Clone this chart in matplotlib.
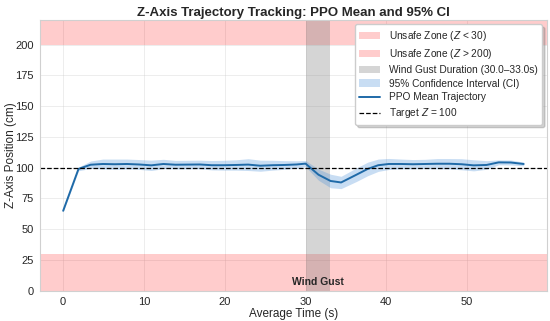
import numpy as np
import matplotlib
matplotlib.use("Agg")
import matplotlib.pyplot as plt
import seaborn as sns

sns.set_style("whitegrid")
plt.rcParams['font.family'] = ['Liberation Sans', 'DejaVu Sans']
plt.rcParams['mathtext.fontset'] = 'custom'
plt.rcParams['mathtext.rm'] = 'Liberation Sans'
plt.rcParams['mathtext.it'] = 'Liberation Sans:italic'

# mean trajectory and 95% CI half-width
times = [0.0, 1.9, 3.4, 4.9, 6.4, 7.9, 9.4, 10.9, 12.4, 13.9, 15.4, 16.9, 18.4,
         19.9, 21.4, 22.9, 24.4, 25.9, 27.4, 28.9, 30.0, 31.6, 33.1, 34.4, 36.3,
         37.7, 39.0, 40.3, 41.8, 43.3, 44.8, 46.3, 47.8, 49.3, 50.8, 52.4, 53.9,
         55.4, 57.0]
mean_z = [65.0, 99.0, 102.4, 103.0, 102.8, 103.0, 102.6, 101.9, 103.0, 102.4,
          102.5, 102.6, 102.0, 102.0, 102.2, 102.5, 101.6, 102.0, 102.2, 102.6,
          103.3, 94.3, 89.2, 88.0, 94.3, 99.0, 102.0, 103.0, 103.0, 102.8, 103.0,
          103.2, 103.2, 102.8, 101.9, 102.2, 104.3, 104.2, 103.0]
ci_half = [0.8, 1.5, 3.0, 4.0, 4.2, 4.0, 4.0, 4.2, 3.8, 3.5, 3.5, 3.5, 3.8, 4.0,
           4.2, 4.8, 4.5, 4.0, 3.5, 3.0, 2.5, 4.5, 5.5, 5.0, 5.5, 5.5, 5.0, 4.5,
           4.0, 3.8, 3.8, 4.2, 4.2, 4.5, 4.5, 3.5, 2.0, 2.0, 1.5]

z_low, z_high, z_target = 30, 200, 100
gust_start, gust_end = 30.0, 33.0

t = np.array(times)
m = np.array(mean_z)
h = np.array(ci_half)

fig, ax = plt.subplots(figsize=(5.5, 3.21), dpi=100)
fig.subplots_adjust(left=0.073, right=0.994, bottom=0.094, top=0.938)

ax.axhspan(0, z_low, color='red', alpha=0.2, lw=0, label=f'Unsafe Zone ($Z$ < {z_low})')
ax.axhspan(z_high, 220, color='red', alpha=0.2, lw=0, label=f'Unsafe Zone ($Z$ > {z_high})')
ax.axvspan(gust_start, gust_end, color='gray', alpha=0.33, lw=0,
           label=f'Wind Gust Duration ({gust_start:.1f}–{gust_end:.1f}s)')
ax.fill_between(t, m - h, m + h, color='#4a90d9', alpha=0.3, lw=0,
                label='95% Confidence Interval (CI)')
ax.plot(t, m, color='#1f6aa8', lw=1.4, label='PPO Mean Trajectory')
ax.axhline(z_target, color='black', ls='--', lw=0.9, label=f'Target $Z$ = {z_target}')

ax.text((gust_start + gust_end) / 2, 7.5, 'Wind Gust', ha='center', va='center',
        fontsize=7.5, fontweight='bold')

ax.set_xlim(-2.85, 59.85)
ax.set_ylim(0, 220)
ax.set_yticks(range(0, 201, 25))
ax.set_title('Z-Axis Trajectory Tracking: PPO Mean and 95% CI', fontsize=9.5,
             fontweight='bold', pad=3)
ax.set_xlabel('Average Time (s)', fontsize=8.5, labelpad=1)
ax.set_ylabel('Z-Axis Position (cm)', fontsize=8.5, labelpad=-1)
ax.tick_params(labelsize=8, pad=1)
for s in ax.spines.values():
    s.set_linewidth(0.8)
    s.set_color('#d0d0d0')
ax.grid(lw=0.5, alpha=0.5)

leg = ax.legend(loc='upper right', fontsize=7.3, frameon=True,
                shadow={'color': 'gray', 'alpha': 0.35},
                framealpha=1, handlelength=2.0, handletextpad=0.9, borderpad=0.45,
                labelspacing=0.38, borderaxespad=0.45)

fig.savefig('out.png')
